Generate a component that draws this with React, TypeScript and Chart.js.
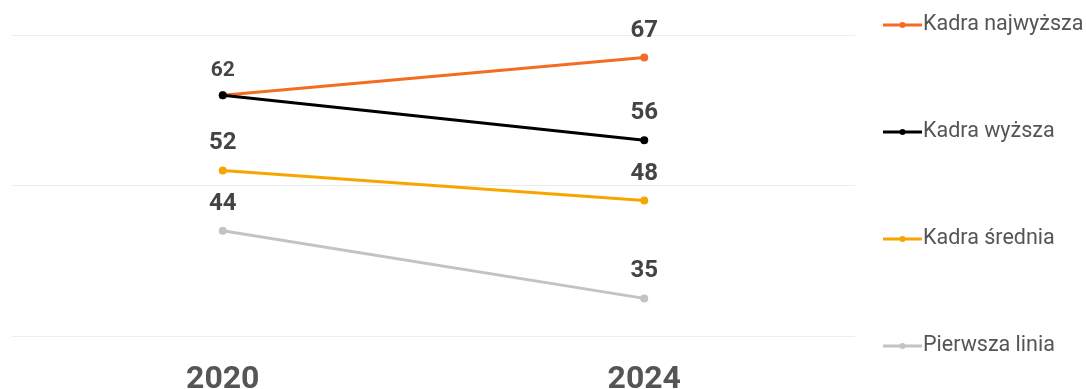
import React, { useEffect, useRef } from "react";
import { Chart, registerables } from "chart.js";

Chart.register(...registerables);

const categories = ["2020", "2024"];
const seriesNames = ["Kadra najwyższa", "Kadra wyższa", "Kadra średnia", "Pierwsza linia"];
const kadraNajwyzsza = [62, 67];
const kadraWyzsza = [62, 56];
const kadraSrednia = [52, 48];
const pierwszaLinia = [44, 35];
const seriesValues = [kadraNajwyzsza, kadraWyzsza, kadraSrednia, pierwszaLinia];
const seriesColors = ["#f36c21", "#000000", "#f7a600", "#c3c3c3"];
const seriesOrder = [1, 0, 2, 3];
const yMin = 30;
const yMax = 70;
const yStep = 20;

const FONT = "Roboto, 'Noto Sans', sans-serif";

const dataLabelPlugin = {
  id: "dataLabels",
  afterDatasetsDraw(chart: any) {
    const ctx = chart.ctx;
    const datasets = chart.data.datasets;
    const seen = new Set<string>();
    ctx.save();
    ctx.fillStyle = "#444444";
    ctx.textAlign = "center";
    ctx.textBaseline = "middle";
    datasets.forEach((ds: any, di: number) => {
      const meta = chart.getDatasetMeta(di);
      meta.data.forEach((pt: any, i: number) => {
        const v = ds.data[i];
        const key = `${i}-${v}`;
        if (seen.has(key)) return;
        seen.add(key);
        const shared = datasets.filter((d: any) => d.data[i] === v).length > 1;
        ctx.font = shared ? `bold 21px ${FONT}` : `bold 24px ${FONT}`;
        ctx.fillText(String(v), pt.x, pt.y - (shared ? 24 : 27));
      });
    });
    ctx.restore();
  },
};

const sideLegendPlugin = {
  id: "sideLegend",
  afterDraw(chart: any) {
    const ctx = chart.ctx;
    const area = chart.chartArea;
    const n = chart.data.datasets.length;
    const spacing = 107;
    const cy = (area.top + area.bottom) / 2;
    const x0 = area.right + 28;
    const lineLen = 39;
    ctx.save();
    chart.data.datasets.forEach((ds: any, i: number) => {
      const y = cy + (i - (n - 1) / 2) * spacing;
      ctx.strokeStyle = ds.borderColor;
      ctx.lineWidth = 3;
      ctx.beginPath();
      ctx.moveTo(x0, y);
      ctx.lineTo(x0 + lineLen, y);
      ctx.stroke();
      ctx.fillStyle = ds.borderColor;
      ctx.beginPath();
      ctx.arc(x0 + lineLen / 2, y, 3, 0, Math.PI * 2);
      ctx.fill();
      ctx.font = `21.5px ${FONT}`;
      ctx.fillStyle = "#555555";
      ctx.textAlign = "left";
      ctx.textBaseline = "middle";
      ctx.fillText(ds.label, x0 + lineLen + 1, y);
    });
    ctx.restore();
  },
};

export default function App() {
  const ref = useRef<HTMLCanvasElement | null>(null);
  useEffect(() => {
    if (!ref.current) return;
    const chart = new Chart(ref.current, {
      type: "line",
      data: {
        labels: categories,
        datasets: seriesNames.map((name, i) => ({
          label: name,
          data: seriesValues[i],
          borderColor: seriesColors[i],
          backgroundColor: seriesColors[i],
          borderWidth: 3,
          pointRadius: 4,
          pointHoverRadius: 4,
          pointBorderWidth: 0,
          tension: 0,
          order: seriesOrder[i],
        })),
      },
      options: {
        responsive: false,
        animation: false,
        layout: { padding: { left: 12, top: 35, right: 231, bottom: -27 } },
        plugins: {
          legend: { display: false },
          tooltip: { enabled: false },
        },
        scales: {
          x: {
            offset: true,
            grid: { display: false },
            border: { display: false },
            ticks: {
              padding: 20,
              color: "#555555",
              font: { family: FONT, size: 32, weight: "bold", lineHeight: 1 },
            },
          },
          y: {
            min: yMin,
            max: yMax,
            grid: { color: "#ececec", lineWidth: 1, drawTicks: false },
            border: { display: false },
            ticks: { display: false, stepSize: yStep },
          },
        },
      },
      plugins: [dataLabelPlugin, sideLegendPlugin],
    });
    return () => chart.destroy();
  }, []);
  return (
    <div style={{ position: "absolute", left: 0, top: 0, width: 1086, height: 389, background: "#fff" }}>
      <canvas ref={ref} width={1086} height={389} style={{ display: "block" }} />
    </div>
  );
}
